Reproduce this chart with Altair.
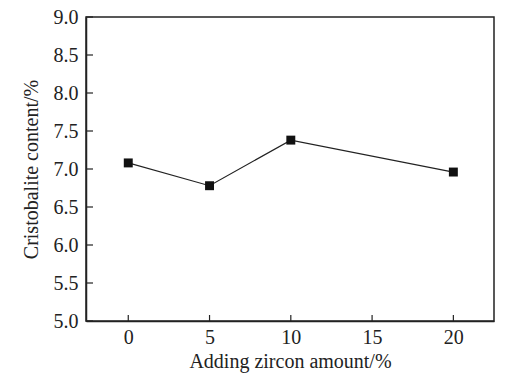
import altair as alt
import pandas as pd

zircon = [0, 5, 10, 20]
cristobalite = [7.08, 6.78, 7.38, 6.96]
y_ticks = [5.0, 5.5, 6.0, 6.5, 7.0, 7.5, 8.0, 8.5, 9.0]
x_ticks = [0, 5, 10, 15, 20]

df = pd.DataFrame({"x": zircon, "y": cristobalite})
dfx = pd.DataFrame({"x": x_ticks})
dfy = pd.DataFrame({"y": y_ticks})

font = "Liberation Serif"
xs = alt.Scale(domain=[-2.6, 22.5], nice=False, zero=False)
ys = alt.Scale(domain=[5, 9], nice=False, zero=False)
x_enc = alt.X("x:Q", scale=xs,
              axis=alt.Axis(title="Adding zircon amount/%", values=x_ticks, format="d",
                            ticks=False, labelPadding=6, titlePadding=4,
                            labelOverlap=False, labelFlush=False))
y_enc = alt.Y("y:Q", scale=ys,
              axis=alt.Axis(title="Cristobalite content/%", values=y_ticks, format=".1f",
                            ticks=False, labelPadding=8, titlePadding=12,
                            labelOverlap=False, labelFlush=False))

base = alt.Chart(df)
line = base.mark_line(color="#222222", strokeWidth=1.2).encode(x=x_enc, y=y_enc)
pts = base.mark_point(shape="square", filled=True, size=80, color="#111111", opacity=1).encode(
    x=x_enc, y=y_enc)

xticks = alt.Chart(dfx).mark_rule(color="#222222", strokeWidth=1.2).encode(
    x=x_enc, y=alt.value(304), y2=alt.value(298))
yticks = alt.Chart(dfy).mark_rule(color="#222222", strokeWidth=1.2).encode(
    y=y_enc, x=alt.value(0), x2=alt.value(7))

chart = (line + pts + xticks + yticks).properties(
    width=408, height=304,
    autosize=alt.AutoSizeParams(type="none"),
    padding={"left": 86, "top": 17, "right": 31, "bottom": 56},
).configure_view(
    stroke="#222222", strokeWidth=1.5
).configure_axis(
    grid=False, domainColor="#222222", domainWidth=1.5, labelOverlap=False,
    labelFont=font, titleFont=font, labelFontSize=20, titleFontSize=20,
    labelColor="#222222", titleColor="#222222", titleFontWeight="normal"
)

chart.save("out.html", embed_options={"renderer": "svg", "actions": False})
